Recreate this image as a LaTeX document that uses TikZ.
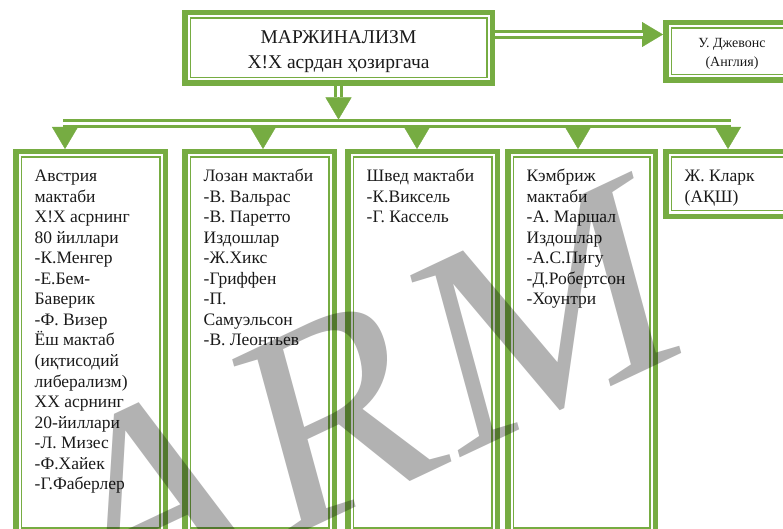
\documentclass[tikz,border=0pt]{standalone}
\usepackage{fontspec}
\setmainfont{Liberation Serif}
\usetikzlibrary{arrows.meta}
\definecolor{G}{HTML}{76AC42}
\definecolor{T}{HTML}{1A1A1A}
\begin{document}
\begin{tikzpicture}[x=1pt,y=-1pt,
  frame/.style={draw=G, line width=5.5pt, inner sep=0pt,
    path picture={\draw[G, line width=1.7pt]
      ([shift={(5.6pt,-5.6pt)}]path picture bounding box.north west) rectangle
      ([shift={(-5.6pt,5.6pt)}]path picture bounding box.south east);}},
  boxtxt/.style={anchor=base west, inner sep=0pt, text=T,
    font=\fontsize{17.5}{20.5}\selectfont},
  ctxt/.style={inner sep=0pt, text=T, align=center},
  shaft/.style={draw=G, line width=3pt, double=white, double distance=2.5pt},
  vhead/.style={draw=G, fill=G, line width=0.4pt, -{Triangle[length=22pt,width=26pt]}},
  hhead/.style={draw=G, fill=G, line width=0.4pt, -{Triangle[length=21pt,width=25pt]}},
  wm/.style={inner sep=0pt, text=black, text opacity=0.3,
    font=\fontsize{280}{280}\selectfont}
]
\clip (0,0) rectangle (783,529);

% top boxes
\node[frame, minimum width=307.5pt, minimum height=70.5pt] (main) at (338.5,48) {};
\node[ctxt, font=\fontsize{19.5}{25}\selectfont] (mt) at ([yshift=-4pt]main.center)
      {МАРЖИНАЛИЗМ\\Х!Х асрдан ҳозиргача};
\node[frame, minimum width=132.5pt, minimum height=57.5pt] (dzh) at (732,51.5) {};
\node[ctxt, font=\fontsize{14}{19}\selectfont] (dt) at ([yshift=-2.5pt]dzh.center)
      {У. Джевонс\\(Англия)};

% lower boxes
\node[frame, minimum width=149.5pt, minimum height=381.5pt] (b1) at (90.5,342.5) {};
\node[frame, minimum width=149.5pt, minimum height=381.5pt] (b2) at (259.5,342.5) {};
\node[frame, minimum width=149.5pt, minimum height=381.5pt] (b3) at (422.5,342.5) {};
\node[frame, minimum width=147.5pt, minimum height=381.5pt] (b4) at (581.5,342.5) {};
\node[frame, minimum width=132.5pt, minimum height=64.5pt] (b5) at (732,184) {};

\node[boxtxt] (t1) at ([xshift=21.5pt,yshift=-33pt]b1.north west) {\parbox[t]{140pt}{%
Австрия\\мактаби\\Х!Х асрнинг\\80 йиллари\\-К.Менгер\\-Е.Бем-\\Баверик\\-Ф. Визер\\Ёш мактаб\\(иқтисодий\\либерализм)\\ХХ асрнинг\\20-йиллари\\-Л. Мизес\\-Ф.Хайек\\-Г.Фаберлер}};
\node[boxtxt] (t2) at ([xshift=21.5pt,yshift=-33pt]b2.north west) {\parbox[t]{140pt}{%
Лозан мактаби\\-В. Вальрас\\-В. Паретто\\Издошлар\\-Ж.Хикс\\-Гриффен\\-П.\\Самуэльсон\\-В. Леонтьев}};
\node[boxtxt] (t3) at ([xshift=21.5pt,yshift=-33pt]b3.north west) {\parbox[t]{140pt}{%
Швед мактаби\\-К.Виксель\\-Г. Кассель}};
\node[boxtxt] (t4) at ([xshift=21.5pt,yshift=-33pt]b4.north west) {\parbox[t]{140pt}{%
Кэмбриж\\мактаби\\-А. Маршал\\Издошлар\\-А.С.Пигу\\-Д.Робертсон\\-Хоунтри}};
\node[boxtxt] (t5) at ([xshift=21.5pt,yshift=-33pt]b5.north west) {\parbox[t]{120pt}{%
Ж. Кларк\\(АҚШ)}};

% bus and junctions
\coordinate (bL) at (63,123.5);
\coordinate (bR) at (731,123.5);
\coordinate (j1) at (65,123.5);
\coordinate (j2) at (263,123.5);
\coordinate (j3) at (417,123.5);
\coordinate (j4) at (578,123.5);
\coordinate (j5) at (728,123.5);

% arrow heads first
\draw[vhead, shorten >=4pt] (main.south) -- (main.south |- bL);
\foreach \j/\b in {j1/b1,j2/b2,j3/b3,j4/b4,j5/b5}
  \draw[vhead] (\j) -- (\j |- \b.north);
\coordinate (ra) at ([yshift=13.5pt]main.east);
\draw[hhead] (ra) -- (ra -| dzh.west);

% shafts
\draw[shaft, shorten >=26pt] (main.south) -- (main.south |- bL);
\draw[shaft] (bL) -- (bR);
\draw[shaft, shorten >=20pt] (ra) -- (ra -| dzh.west);

% watermark
\node[wm, cm={0.952,0.449,-0.270,0.993,(0,0)}, anchor=base east] (wmk) at (690,350) {ARM};
\end{tikzpicture}
\end{document}
